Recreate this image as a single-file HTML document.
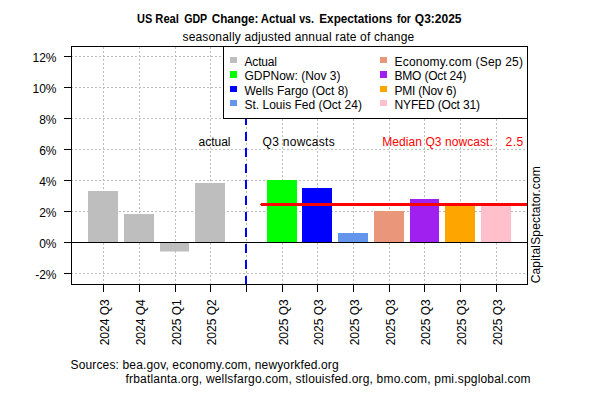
<!DOCTYPE html><html><head><meta charset="utf-8"><style>html,body{margin:0;padding:0;background:#fff;overflow:hidden}svg{display:block}text{font-family:"Liberation Sans",sans-serif;font-size:12px;fill:#000}</style></head><body>
<svg width="600" height="400" viewBox="0 0 600 400">
<rect width="600" height="400" fill="#fff"/>
<text x="137.00" y="22.5" style="font-weight:bold;font-size:12px" textLength="15.23" lengthAdjust="spacingAndGlyphs">US</text>
<text x="155.30" y="22.5" style="font-weight:bold;font-size:12px" textLength="23.68" lengthAdjust="spacingAndGlyphs">Real</text>
<text x="184.20" y="22.5" style="font-weight:bold;font-size:12px" textLength="23.03" lengthAdjust="spacingAndGlyphs">GDP</text>
<text x="211.70" y="22.5" style="font-weight:bold;font-size:12px" textLength="46.77" lengthAdjust="spacingAndGlyphs">Change:</text>
<text x="260.80" y="22.5" style="font-weight:bold;font-size:12px" textLength="34.84" lengthAdjust="spacingAndGlyphs">Actual</text>
<text x="299.20" y="22.5" style="font-weight:bold;font-size:12px" textLength="14.70" lengthAdjust="spacingAndGlyphs">vs.</text>
<text x="319.30" y="22.5" style="font-weight:bold;font-size:12px" textLength="73.05" lengthAdjust="spacingAndGlyphs">Expectations</text>
<text x="397.00" y="22.5" style="font-weight:bold;font-size:12px" textLength="13.80" lengthAdjust="spacingAndGlyphs">for</text>
<text x="414.80" y="22.5" style="font-weight:bold;font-size:12px" textLength="46.70" lengthAdjust="spacingAndGlyphs">Q3:2025</text>
<text x="182.5" y="40.8" textLength="231.7" lengthAdjust="spacing">seasonally adjusted annual rate of change</text>
<g stroke="#BEBEBE" stroke-width="1" stroke-dasharray="2 2" shape-rendering="crispEdges">
<line x1="71" y1="56.5" x2="527" y2="56.5"/>
<line x1="71" y1="87.5" x2="527" y2="87.5"/>
<line x1="71" y1="118.5" x2="527" y2="118.5"/>
<line x1="71" y1="149.5" x2="527" y2="149.5"/>
<line x1="71" y1="180.5" x2="527" y2="180.5"/>
<line x1="71" y1="211.5" x2="527" y2="211.5"/>
<line x1="71" y1="273.5" x2="527" y2="273.5"/>
<line x1="103.5" y1="285" x2="103.5" y2="46"/>
<line x1="139.5" y1="285" x2="139.5" y2="46"/>
<line x1="175.5" y1="285" x2="175.5" y2="46"/>
<line x1="210.5" y1="285" x2="210.5" y2="46"/>
<line x1="246.5" y1="285" x2="246.5" y2="46"/>
<line x1="282.5" y1="285" x2="282.5" y2="46"/>
<line x1="317.5" y1="285" x2="317.5" y2="46"/>
<line x1="353.5" y1="285" x2="353.5" y2="46"/>
<line x1="389.5" y1="285" x2="389.5" y2="46"/>
<line x1="424.5" y1="285" x2="424.5" y2="46"/>
<line x1="460.5" y1="285" x2="460.5" y2="46"/>
<line x1="496.5" y1="285" x2="496.5" y2="46"/>
</g>
<g>
<rect x="88" y="191" width="30" height="51" fill="#BEBEBE"/>
<rect x="124" y="214" width="30" height="28" fill="#BEBEBE"/>
<rect x="160" y="242" width="29" height="9.5" fill="#BEBEBE"/>
<rect x="195" y="183" width="30" height="59" fill="#BEBEBE"/>
<rect x="267" y="180" width="30" height="62" fill="#00FF00"/>
<rect x="302" y="188" width="30" height="54" fill="#0000FF"/>
<rect x="338" y="233" width="30" height="9" fill="#6495ED"/>
<rect x="374" y="211" width="30" height="31" fill="#E9967A"/>
<rect x="410" y="199" width="29" height="43" fill="#A020F0"/>
<rect x="445" y="205" width="30" height="37" fill="#FFA500"/>
<rect x="481" y="206" width="30" height="36" fill="#FFC0CB"/>
</g>
<line x1="71" y1="242.5" x2="527" y2="242.5" stroke="#000" stroke-width="1" shape-rendering="crispEdges"/>
<line x1="246" y1="116" x2="246" y2="284" stroke="#0000FF" stroke-width="2" stroke-dasharray="9 7" shape-rendering="crispEdges"/>
<line x1="261" y1="204.5" x2="527" y2="204.5" stroke="#FF0000" stroke-width="3" shape-rendering="crispEdges"/>
<rect x="260" y="204" width="1" height="1" fill="#FF0000"/>
<text x="198.5" y="146">actual</text>
<text x="262.6" y="146" textLength="72.1" lengthAdjust="spacing">Q3 nowcasts</text>
<text x="382.2" y="146" style="fill:#FF0000" textLength="110.6" lengthAdjust="spacing">Median Q3 nowcast:</text>
<text x="505.5" y="146" style="fill:#FF0000" textLength="17.7" lengthAdjust="spacing">2.5</text>
<rect x="223.5" y="46.5" width="304" height="72" fill="#fff" stroke="#000" stroke-width="1" shape-rendering="crispEdges"/>
<rect x="230" y="57" width="7" height="6" fill="#BEBEBE" shape-rendering="crispEdges"/>
<text x="244.5" y="65.9" textLength="32.50" lengthAdjust="spacing">Actual</text>
<rect x="230" y="71" width="7" height="7" fill="#00FF00" shape-rendering="crispEdges"/>
<text x="244.5" y="80.2">GDPNow: (Nov 3)</text>
<rect x="230" y="86" width="7" height="6" fill="#0000FF" shape-rendering="crispEdges"/>
<text x="244.5" y="94.5">Wells Fargo (Oct 8)</text>
<rect x="230" y="100" width="7" height="6" fill="#6495ED" shape-rendering="crispEdges"/>
<text x="244.5" y="108.8">St. Louis Fed (Oct 24)</text>
<rect x="380" y="57" width="7" height="6" fill="#E9967A" shape-rendering="crispEdges"/>
<text x="394.5" y="65.9" textLength="128.50" lengthAdjust="spacing">Economy.com (Sep 25)</text>
<rect x="380" y="71" width="7" height="7" fill="#A020F0" shape-rendering="crispEdges"/>
<text x="394.5" y="80.2" textLength="71.90" lengthAdjust="spacing">BMO (Oct 24)</text>
<rect x="380" y="86" width="7" height="6" fill="#FFA500" shape-rendering="crispEdges"/>
<text x="394.5" y="94.5" textLength="61.90" lengthAdjust="spacing">PMI (Nov 6)</text>
<rect x="380" y="100" width="7" height="6" fill="#FFC0CB" shape-rendering="crispEdges"/>
<text x="394.5" y="108.8" textLength="85.50" lengthAdjust="spacing">NYFED (Oct 31)</text>
<rect x="71.5" y="46.5" width="456" height="238" fill="none" stroke="#000" stroke-width="1" shape-rendering="crispEdges"/>
<g stroke="#000" stroke-width="1" shape-rendering="crispEdges">
<line x1="64" y1="56.5" x2="71" y2="56.5"/>
<line x1="64" y1="87.5" x2="71" y2="87.5"/>
<line x1="64" y1="118.5" x2="71" y2="118.5"/>
<line x1="64" y1="149.5" x2="71" y2="149.5"/>
<line x1="64" y1="180.5" x2="71" y2="180.5"/>
<line x1="64" y1="211.5" x2="71" y2="211.5"/>
<line x1="64" y1="242.5" x2="71" y2="242.5"/>
<line x1="64" y1="273.5" x2="71" y2="273.5"/>
<line x1="103.5" y1="284" x2="103.5" y2="292"/>
<line x1="139.5" y1="284" x2="139.5" y2="292"/>
<line x1="175.5" y1="284" x2="175.5" y2="292"/>
<line x1="210.5" y1="284" x2="210.5" y2="292"/>
<line x1="246.5" y1="284" x2="246.5" y2="292"/>
<line x1="282.5" y1="284" x2="282.5" y2="292"/>
<line x1="317.5" y1="284" x2="317.5" y2="292"/>
<line x1="353.5" y1="284" x2="353.5" y2="292"/>
<line x1="389.5" y1="284" x2="389.5" y2="292"/>
<line x1="424.5" y1="284" x2="424.5" y2="292"/>
<line x1="460.5" y1="284" x2="460.5" y2="292"/>
<line x1="496.5" y1="284" x2="496.5" y2="292"/>
</g>
<text x="56.5" y="62" text-anchor="end">12%</text>
<text x="56.5" y="93" text-anchor="end">10%</text>
<text x="56.5" y="124" text-anchor="end">8%</text>
<text x="56.5" y="155" text-anchor="end">6%</text>
<text x="56.5" y="186" text-anchor="end">4%</text>
<text x="56.5" y="217" text-anchor="end">2%</text>
<text x="56.5" y="248" text-anchor="end">0%</text>
<text x="56.5" y="279" text-anchor="end">-2%</text>
<text transform="translate(109.0,299.3) rotate(-90)" text-anchor="end">2024 Q3</text>
<text transform="translate(145.0,299.3) rotate(-90)" text-anchor="end">2024 Q4</text>
<text transform="translate(181.0,299.3) rotate(-90)" text-anchor="end">2025 Q1</text>
<text transform="translate(216.0,299.3) rotate(-90)" text-anchor="end">2025 Q2</text>
<text transform="translate(288.0,299.3) rotate(-90)" text-anchor="end">2025 Q3</text>
<text transform="translate(323.0,299.3) rotate(-90)" text-anchor="end">2025 Q3</text>
<text transform="translate(359.0,299.3) rotate(-90)" text-anchor="end">2025 Q3</text>
<text transform="translate(395.0,299.3) rotate(-90)" text-anchor="end">2025 Q3</text>
<text transform="translate(430.0,299.3) rotate(-90)" text-anchor="end">2025 Q3</text>
<text transform="translate(466.0,299.3) rotate(-90)" text-anchor="end">2025 Q3</text>
<text transform="translate(502.0,299.3) rotate(-90)" text-anchor="end">2025 Q3</text>
<text transform="translate(540.3,283.3) rotate(-90)" textLength="117.1" lengthAdjust="spacing">CapitalSpectator.com</text>
<text x="70.5" y="369" textLength="268.2" lengthAdjust="spacing">Sources: bea.gov, economy.com, newyorkfed.org</text>
<text x="125.5" y="382.5" textLength="405" lengthAdjust="spacing">frbatlanta.org, wellsfargo.com, stlouisfed.org, bmo.com, pmi.spglobal.com</text>
</svg></body></html>
